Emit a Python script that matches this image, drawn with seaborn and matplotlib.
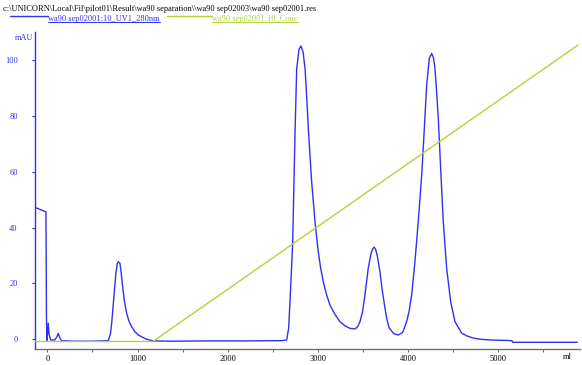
import matplotlib
matplotlib.use("Agg")
import matplotlib.pyplot as plt
from matplotlib.lines import Line2D
import pandas as pd
import seaborn as sns

# ---- data ----
uv_ml = [-137, -16, -13, -10, -6, 2, 10, 18, 36, 80, 105, 121, 138, 158, 300, 500,
         675, 700, 713, 738, 760, 775, 786, 805, 820, 834, 855, 879, 905, 934, 970,
         1008, 1100, 1174, 1400, 1800, 2200, 2600, 2653, 2675, 2690, 2705, 2720,
         2745, 2764, 2790, 2812, 2835, 2857, 2875, 2893, 2930, 2967, 3003, 3030,
         3059, 3095, 3133, 3190, 3244, 3300, 3355, 3410, 3440, 3466, 3495, 3521,
         3558, 3590, 3610, 3624, 3640, 3660, 3688, 3715, 3743, 3765, 3790, 3840,
         3890, 3940, 3983, 4010, 4039, 4075, 4112, 4150, 4175, 4205, 4234, 4261,
         4280, 4297, 4315, 4334, 4360, 4389, 4427, 4471, 4519, 4593, 4650, 4722,
         4800, 4907, 5150, 5160, 5875]
uv_mau = [47.3, 45.7, 30.0, 8.0, -0.5, 2.0, 5.7, 2.0, -0.2, -0.3, 0.8, 2.1, 0.5, -0.5,
          -0.7, -0.7, -0.5, 2.0, 5.7, 15.3, 23.7, 27.0, 27.8, 27.2, 23.5, 18.9,
          13.5, 9.3, 6.5, 4.5, 2.7, 1.5, 0.0, -0.6, -0.7, -0.6, -0.6, -0.5, -0.3,
          4.0, 13.5, 24.0, 35.0, 73.0, 97.0, 104.0, 105.2, 103.0, 97.0, 87.0,
          75.7, 56.5, 42.2, 31.4, 25.5, 20.6, 16.0, 12.3, 8.8, 6.3, 4.8, 3.9,
          3.7, 4.5, 6.3, 10.0, 15.9, 25.6, 31.0, 32.6, 33.0, 32.2, 29.5, 24.0,
          17.0, 11.2, 7.0, 4.0, 2.0, 1.5, 2.5, 6.3, 10.0, 15.9, 27.8, 42.2, 58.9,
          73.2, 91.1, 100.7, 102.5, 101.0, 97.1, 89.0, 79.2, 61.3, 42.2, 25.4,
          13.5, 6.3, 2.2, 1.2, 0.4, 0.0, -0.25, -0.5, -1.1, -1.1]
conc_ml = [-137, 1170, 5882]
conc_val = [-0.8, -0.8, 105.5]

x_major = [0, 1000, 2000, 3000, 4000, 5000]
x_minor = [500, 1500, 2500, 3500, 4500, 5500]
y_major = [0, 20, 40, 60, 80, 100]

title_text = r"c:\UNICORN\Local\Fil\pilot01\Result\wa90 separation\\wa90 sep02003\wa90 sep02001.res"
uv_label = "wa90 sep02001:10_UV1_280nm"
conc_label = "wa90 sep02001:10_Conc"

BLUE = "#3030f2"
GREEN = "#b0d43c"
GRAY = "#707070"

sns.set_theme(style="white")
plt.rcParams["font.family"] = ["Liberation Serif", "DejaVu Serif"]

fig = plt.figure(figsize=(5.82, 3.65), dpi=100)
ax = fig.add_axes([35 / 582, 1 - 349 / 365, 545 / 582, 317 / 365])

uv_df = pd.DataFrame({"ml": uv_ml, "mAU": uv_mau})
conc_df = pd.DataFrame({"ml": conc_ml, "conc": conc_val})

sns.lineplot(data=uv_df, x="ml", y="mAU", ax=ax, color=BLUE, lw=1.0,
             estimator=None, sort=False, zorder=2)
sns.lineplot(data=conc_df, x="ml", y="conc", ax=ax, color=GREEN, lw=1.0,
             estimator=None, sort=False, zorder=3)

ax.set_xlim(-137, 5905)
ax.set_ylim(-3.5, 110.2)
ax.set_xlabel("")
ax.set_ylabel("")

ax.set_xticks(x_major)
ax.set_xticklabels([str(v) for v in x_major])
ax.set_xticks(x_minor, minor=True)
ax.set_yticks(y_major)
ax.set_yticklabels([str(v) for v in y_major])

ax.tick_params(axis="x", which="both", direction="out", length=2.5, width=0.8,
               color=GRAY, labelsize=6, labelcolor="black", pad=2, bottom=True)
ax.tick_params(axis="y", which="both", direction="out", length=2.5, width=0.8,
               color=BLUE, labelsize=6, labelcolor=BLUE, pad=10, left=True)

for side in ["top", "right"]:
    ax.spines[side].set_visible(False)
ax.spines["left"].set_color(BLUE)
ax.spines["left"].set_linewidth(1.0)
ax.spines["bottom"].set_color(GRAY)
ax.spines["bottom"].set_linewidth(1.0)

# header texts
fig.text(3 / 582, 1 - 9 / 365, title_text, fontsize=6, color="black",
         ha="left", va="center")
fig.text(15 / 582, 1 - 38 / 365, "mAU", fontsize=6, color=BLUE,
         ha="left", va="center")
fig.text(567 / 582, 1 - 357 / 365, "ml", fontsize=6, color="black",
         ha="center", va="center")

# legend entries (line + underlined label)
fig.add_artist(Line2D([10 / 582, 48 / 582], [1 - 16 / 365] * 2, color=BLUE, lw=1.0))
t1 = fig.text(48 / 582, 1 - 19 / 365, uv_label, fontsize=6, color=BLUE,
              ha="left", va="center")
fig.add_artist(Line2D([167 / 582, 212 / 582], [1 - 16 / 365] * 2, color=GREEN, lw=1.0))
t2 = fig.text(212 / 582, 1 - 19 / 365, conc_label, fontsize=6, color=GREEN,
              ha="left", va="center")

fig.canvas.draw()
r = fig.canvas.get_renderer()
for t, c in [(t1, BLUE), (t2, GREEN)]:
    bb = t.get_window_extent(r).transformed(fig.transFigure.inverted())
    fig.add_artist(Line2D([bb.x0, bb.x1], [bb.y0 + 0.002] * 2, color=c, lw=0.7))

fig.savefig("out.png", dpi=100)
